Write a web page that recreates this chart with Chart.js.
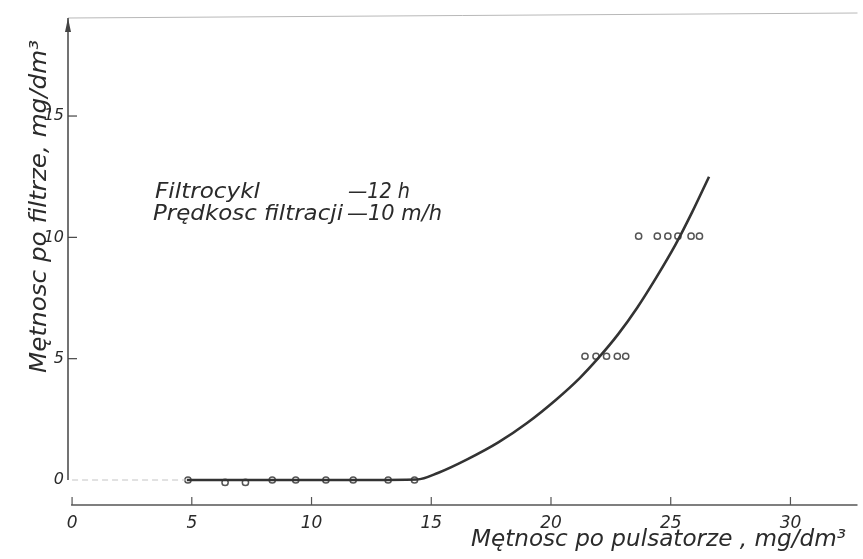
<!DOCTYPE html>
<html>
<head>
<meta charset="utf-8">
<script src="https://cdn.jsdelivr.net/npm/chart.js@4/dist/chart.umd.min.js"></script>
<style>
    html, body { margin: 0; padding: 0; background: #fff; }
    #chart { display: block; }
</style>
</head>
<body>
<canvas id="chart" width="863" height="559"></canvas>
<script>
// Measured points (x = turbidity after pulsator, y = turbidity after filter)
const flatX = [4.84, 6.39, 7.24, 8.36, 9.34, 10.6, 11.74, 13.2, 14.3];
const flatY = [0, -0.1, -0.1, 0, 0, 0, 0, 0, 0];
const midX = [21.42, 21.88, 22.32, 22.77, 23.12];
const midY = [5.1, 5.1, 5.1, 5.1, 5.1];
const highX = [23.66, 24.44, 24.88, 25.3, 25.85, 26.2];
const highY = [10.05, 10.05, 10.05, 10.05, 10.05, 10.05];

// Fitted curve
const curveX = [4.8, 8, 12, 14.4, 15.3, 16.5, 17.8, 19.0, 20.2, 21.2, 22.0, 22.8, 23.6, 24.4, 25.2, 25.9, 26.6];
const curveY = [0, 0, 0, 0.02, 0.3, 0.85, 1.55, 2.35, 3.3, 4.2, 5.05, 6.0, 7.1, 8.35, 9.7, 11.05, 12.5];

// Faint zero line before the first measurement
const leadX = [0, 4.8];
const leadY = [0, 0];

const xTicks = [0, 5, 10, 15, 20, 25, 30];
const yTicks = [0, 5, 10, 15];

const xTitle = 'Mętnosc po pulsatorze , mg/dm³';
const yTitle = 'Mętnosc po filtrze, mg/dm³';
const noteLabels = ['Filtrocykl', 'Prędkosc filtracji'];
const noteValues = ['—12 h', '—10 m/h'];

const FONT = '"DejaVu Sans", sans-serif';
const INK = '#2b2b2b';

const toPoints = (xs, ys) => xs.map((x, i) => ({ x: x, y: ys[i] }));

// draw text squeezed or stretched to a given width
function fitText(ctx, text, x, y, width) {
    const w = ctx.measureText(text).width;
    ctx.save();
    ctx.translate(x, y);
    ctx.scale(width / w, 1);
    ctx.fillText(text, 0, 0);
    ctx.restore();
}

// Axes, arrow, titles and note are drawn by hand like the paper figure
const paperPlugin = {
    id: 'paper',
    afterDraw(chart) {
        const ctx = chart.ctx;
        const xs = chart.scales.x;
        const ys = chart.scales.y;
        const area = chart.chartArea;
        const axisX = area.left;
        const zeroY = ys.getPixelForValue(0);

        ctx.save();

        // top border
        ctx.strokeStyle = '#b8b8b8';
        ctx.lineWidth = 1;
        ctx.beginPath();
        ctx.moveTo(axisX, area.top);
        ctx.lineTo(area.right, area.top - 5);
        ctx.stroke();

        // y axis with arrow
        ctx.strokeStyle = '#444';
        ctx.lineWidth = 1.5;
        ctx.beginPath();
        ctx.moveTo(axisX, area.top);
        ctx.lineTo(axisX, zeroY);
        ctx.stroke();
        ctx.fillStyle = '#444';
        ctx.beginPath();
        ctx.moveTo(axisX, area.top);
        ctx.lineTo(axisX - 3, area.top + 14);
        ctx.lineTo(axisX + 3, area.top + 14);
        ctx.closePath();
        ctx.fill();

        // inward y ticks
        ctx.lineWidth = 1.2;
        yTicks.slice(1).forEach(v => {
            const py = ys.getPixelForValue(v);
            ctx.beginPath();
            ctx.moveTo(axisX, py);
            ctx.lineTo(axisX + 9, py);
            ctx.stroke();
        });

        // x axis line and ticks
        ctx.strokeStyle = '#555';
        ctx.lineWidth = 1.5;
        ctx.beginPath();
        ctx.moveTo(xs.getPixelForValue(0) - 1, area.bottom);
        ctx.lineTo(area.right, area.bottom);
        ctx.stroke();
        ctx.lineWidth = 1.2;
        xTicks.forEach(v => {
            const px = xs.getPixelForValue(v);
            ctx.beginPath();
            ctx.moveTo(px, area.bottom - 8);
            ctx.lineTo(px, area.bottom);
            ctx.stroke();
        });

        ctx.fillStyle = INK;
        ctx.textBaseline = 'alphabetic';
        ctx.textAlign = 'left';

        // y title (reads bottom to top)
        ctx.save();
        ctx.translate(46, 373);
        ctx.rotate(-Math.PI / 2);
        ctx.font = 'italic 23px ' + FONT;
        fitText(ctx, yTitle, 0, 0, 333);
        ctx.restore();

        // x title
        ctx.font = 'italic 23px ' + FONT;
        fitText(ctx, xTitle, 471, 546, 375);

        // note
        ctx.font = 'italic 21px ' + FONT;
        fitText(ctx, noteLabels[0], 155, 198, 105);
        fitText(ctx, noteValues[0], 348, 198, 62);
        fitText(ctx, noteLabels[1], 153, 220, 190);
        fitText(ctx, noteValues[1], 347, 220, 95);

        ctx.restore();
    }
};

new Chart(document.getElementById('chart'), {
    type: 'scatter',
    data: {
        datasets: [
            {
                label: 'lead',
                data: toPoints(leadX, leadY),
                showLine: true,
                borderColor: '#c4c4c4',
                borderWidth: 1,
                borderDash: [6, 4],
                pointRadius: 0
            },
            {
                label: 'curve',
                data: toPoints(curveX, curveY),
                showLine: true,
                borderColor: '#333',
                borderWidth: 2.6,
                cubicInterpolationMode: 'monotone',
                pointRadius: 0
            },
            {
                label: 'measured',
                data: toPoints(flatX, flatY)
                    .concat(toPoints(midX, midY))
                    .concat(toPoints(highX, highY)),
                showLine: false,
                pointRadius: 3.1,
                pointBackgroundColor: '#fff',
                pointBorderColor: '#555',
                pointBorderWidth: 1.5
            }
        ]
    },
    options: {
        responsive: false,
        animation: false,
        layout: {
            padding: { top: 18, right: 0, left: 0, bottom: 0 }
        },
        plugins: {
            legend: { display: false },
            tooltip: { enabled: false }
        },
        scales: {
            x: {
                type: 'linear',
                min: -0.17,
                max: 32.8,
                afterBuildTicks: s => { s.ticks = xTicks.map(v => ({ value: v })); },
                afterFit: s => { s.height = 54; },
                grid: { display: false, drawTicks: false },
                border: { display: false },
                ticks: {
                    padding: 8,
                    color: INK,
                    font: { family: FONT, size: 17, style: 'italic' }
                }
            },
            y: {
                type: 'linear',
                min: -1.03,
                max: 19.04,
                afterBuildTicks: s => { s.ticks = yTicks.map(v => ({ value: v })); },
                afterFit: s => { s.width = 68; },
                grid: { display: false, drawTicks: false },
                border: { display: false },
                ticks: {
                    padding: 4,
                    color: INK,
                    font: { family: FONT, size: 16, style: 'italic' }
                }
            }
        }
    },
    plugins: [paperPlugin]
});
</script>
</body>
</html>
